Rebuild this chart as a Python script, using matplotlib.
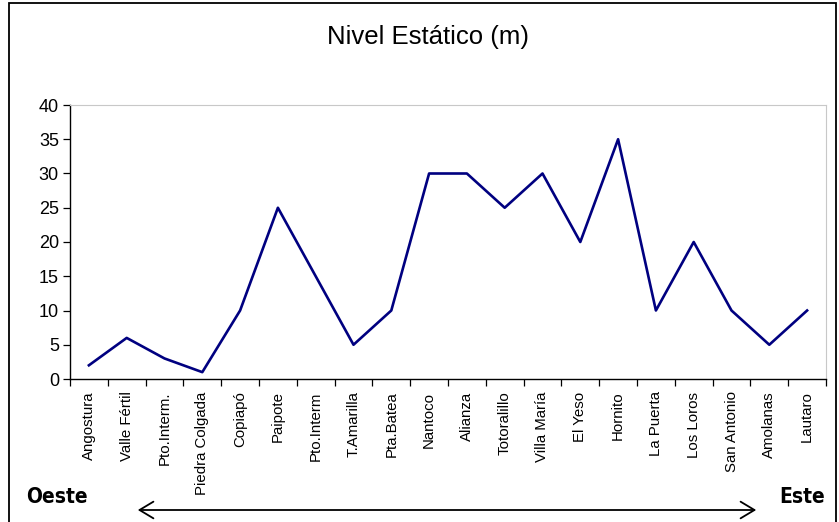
import numpy as np
import matplotlib
matplotlib.use('Agg')
import matplotlib.pyplot as plt
from matplotlib.patches import Rectangle, FancyArrowPatch

# datos
estaciones = ['Angostura', 'Valle Fértil', 'Pto.Interm.', 'Piedra Colgada', 'Copiapó',
              'Paipote', 'Pto.Interm', 'T.Amarilla', 'Pta.Batea', 'Nantoco',
              'Alianza', 'Totoralillo', 'Villa María', 'El Yeso', 'Hornito',
              'La Puerta', 'Los Loros', 'San Antonio', 'Amolanas', 'Lautaro']
nivel = [2, 6, 3, 1, 10, 25, 15, 5, 10, 30, 30, 25, 30, 20, 35, 10, 20, 10, 5, 10]
y_ticks = [0, 5, 10, 15, 20, 25, 30, 35, 40]

plt.rcParams['font.family'] = ['Liberation Sans', 'DejaVu Sans']

fig = plt.figure(figsize=(8.39, 5.22), dpi=100)
W, H = 839, 522

# marco exterior
fig.patches.append(Rectangle((9 / W, -0.05), 827 / W, 1.05 - 3 / H, transform=fig.transFigure,
                             fill=False, edgecolor='black', linewidth=1.3))

ax = fig.add_axes([70 / W, 1 - 379 / H, 756 / W, 274 / H])
x = np.arange(len(estaciones))
ax.plot(x, nivel, color='#000080', linewidth=1.9)

ax.set_xlim(-0.5, len(estaciones) - 0.5)
ax.set_ylim(0, 40)
ax.set_yticks(y_ticks)
ax.tick_params(axis='y', labelsize=13, length=5, width=0.9, direction='out', pad=3)

# ticks entre categorias, etiquetas en el centro
ax.set_xticks(np.arange(len(estaciones) + 1) - 0.5)
ax.set_xticklabels([])
ax.set_xticks(x, minor=True)
ax.set_xticklabels(estaciones, minor=True, rotation=90, fontsize=10.8)
ax.tick_params(axis='x', which='major', length=5, width=0.9, direction='out')
ax.tick_params(axis='x', which='minor', length=0, pad=9)

for s in ['top', 'right']:
    ax.spines[s].set_color('#c8c8c8')
for s in ['left', 'bottom']:
    ax.spines[s].set_color('black')
    ax.spines[s].set_linewidth(1.0)

fig.text(428 / W, 1 - 37 / H, 'Nivel Estático (m)', ha='center', va='center', fontsize=18.5)

# Oeste - Este
fig.text(57 / W, 1 - 497 / H, 'Oeste', ha='center', va='center', fontsize=15,
         fontweight='bold', fontstretch='condensed', family='DejaVu Sans')
fig.text(802 / W, 1 - 497 / H, 'Este', ha='center', va='center', fontsize=15,
         fontweight='bold', fontstretch='condensed', family='DejaVu Sans')
fig.add_artist(FancyArrowPatch(
    (135 / W, 1 - 510 / H), (759 / W, 1 - 510 / H), transform=fig.transFigure,
    arrowstyle='<->,head_length=10,head_width=6', mutation_scale=1,
    color='black', linewidth=1.3))

fig.savefig('out.png', dpi=100)
